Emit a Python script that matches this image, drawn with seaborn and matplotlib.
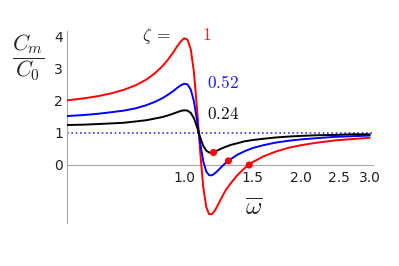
import matplotlib
matplotlib.use('Agg')
import matplotlib.pyplot as plt
import pandas as pd
import seaborn as sns
from matplotlib.ticker import FixedLocator, FixedFormatter, NullFormatter

# ---- data ----
omega = [0.50, 0.55, 0.60, 0.65, 0.70, 0.75, 0.80, 0.84, 0.88, 0.91, 0.94, 0.96,
         0.98, 1.00, 1.02, 1.04, 1.06, 1.08, 1.10, 1.12, 1.14, 1.16, 1.18, 1.20,
         1.22, 1.25, 1.28, 1.32, 1.37, 1.43, 1.50, 1.60, 1.72, 1.86, 2.00, 2.20,
         2.45, 2.70, 3.00]
c_zeta_1 = [2.02, 2.08, 2.15, 2.24, 2.35, 2.49, 2.67, 2.86, 3.09, 3.30, 3.54, 3.71,
            3.86, 3.96, 3.92, 3.62, 2.90, 1.73, 0.40, -0.69, -1.31, -1.54, -1.53, -1.42,
            -1.26, -1.01, -0.78, -0.56, -0.32, -0.10, 0.09, 0.27, 0.42, 0.54, 0.62, 0.70,
            0.77, 0.81, 0.85]
c_zeta_052 = [1.53, 1.56, 1.60, 1.65, 1.70, 1.77, 1.87, 1.97, 2.09, 2.20, 2.32, 2.41,
              2.49, 2.54, 2.52, 2.36, 1.99, 1.38, 0.69, 0.12, -0.20, -0.32, -0.32, -0.26,
              -0.18, -0.05, 0.07, 0.19, 0.32, 0.43, 0.53, 0.62, 0.70, 0.76, 0.80, 0.84,
              0.88, 0.90, 0.92]
c_zeta_024 = [1.25, 1.26, 1.28, 1.30, 1.32, 1.36, 1.40, 1.45, 1.50, 1.55, 1.61, 1.65,
              1.69, 1.71, 1.70, 1.63, 1.46, 1.18, 0.86, 0.60, 0.45, 0.39, 0.39, 0.42,
              0.46, 0.52, 0.57, 0.63, 0.68, 0.74, 0.78, 0.82, 0.86, 0.89, 0.91, 0.93,
              0.94, 0.96, 0.96]
zeta_labels = ['1', '0.52', '0.24']
dot_omega = [1.19, 1.30, 1.47]
dot_c = [0.39, 0.13, 0.0]
reference_level = 1.0
x_major_ticks = [1.0, 1.5, 2.0, 2.5, 3.0]
x_major_labels = ['1.0', '1.5', '2.0', '2.5', '3.0']
x_minor_ticks = [0.6, 0.7, 0.8, 0.9, 1.1, 1.2, 1.3, 1.4, 1.6, 1.7, 1.8, 1.9,
                 2.1, 2.2, 2.3, 2.4, 2.6, 2.7, 2.8, 2.9]
y_ticks = [-1, 0, 1, 2, 3, 4]
y_tick_labels = ['', '0', '1', '2', '3', '4']

# ---- build long table ----
rows = []
for lab, vals in zip(zeta_labels, [c_zeta_1, c_zeta_052, c_zeta_024]):
    for w, c in zip(omega, vals):
        rows.append({'omega': w, 'C': c, 'zeta': lab})
df = pd.DataFrame(rows)

sns.set_style('white')
plt.rcParams['font.family'] = ['DejaVu Sans']
plt.rcParams['mathtext.fontset'] = 'cm'

W, H = 399, 266
fig = plt.figure(figsize=(W / 100, H / 100), dpi=100)
ax = fig.add_axes([67 / W, (H - 222.6) / H, (372.5 - 67) / W, 192 / H])

palette = {'1': '#ff0000', '0.52': '#0000ff', '0.24': '#000000'}
ax.axhline(reference_level, color='#3333ff', lw=1.2, ls=(0, (1, 1.6)), zorder=1)
sns.lineplot(data=df, x='omega', y='C', hue='zeta', hue_order=zeta_labels,
             palette=palette, sort=False, estimator=None, legend=False,
             lw=1.4, ax=ax, zorder=3)
sns.scatterplot(x=dot_omega, y=dot_c, color='#ff0000', s=26, edgecolor='none',
                ax=ax, zorder=5)

ax.set_xscale('log')
ax.set_xlim(0.5, 3.05)
ax.set_ylim(-1.8, 4.2)
ax.xaxis.set_major_locator(FixedLocator(x_major_ticks))
ax.xaxis.set_major_formatter(FixedFormatter(x_major_labels))
ax.xaxis.set_minor_locator(FixedLocator(x_minor_ticks))
ax.xaxis.set_minor_formatter(NullFormatter())
ax.set_yticks(y_ticks)
ax.set_yticklabels(y_tick_labels)
ax.set_xlabel('')
ax.set_ylabel('')

for s in ['top', 'right']:
    ax.spines[s].set_visible(False)
ax.spines['bottom'].set_position(('data', 0))
for s in ['bottom', 'left']:
    ax.spines[s].set_color('#a8a8a8')
    ax.spines[s].set_linewidth(0.8)

ax.tick_params(axis='x', which='major', direction='in', length=4, width=0.7,
               color='#a8a8a8', labelsize=10, pad=4, labelcolor='#222222')
ax.tick_params(axis='x', which='minor', direction='in', length=2.2, width=0.6,
               color='#a8a8a8')
ax.tick_params(axis='y', which='major', direction='in', length=4, width=0.7,
               color='#a8a8a8', labelsize=10, pad=3, labelcolor='#222222')

def px(x, y):
    return x / W, 1 - y / H

fig.text(*px(28, 58), r'$\dfrac{C_m}{C_0}$', fontsize=16, ha='center', va='center')
fig.text(*px(157, 36), r'$\zeta\;=$', fontsize=12.5, ha='center', va='center')
fig.text(*px(206.5, 35), r'$1$', fontsize=12.5, ha='center', va='center', color='#ff2020')
fig.text(*px(222.5, 83), r'$0.52$', fontsize=12.5, ha='center', va='center', color='#1a1aff')
fig.text(*px(223.5, 113.5), r'$0.24$', fontsize=12.5, ha='center', va='center', color='#111111')
fig.text(*px(254, 208), r'$\overline{\omega}$', fontsize=18, ha='center', va='center')

fig.savefig('out.png', dpi=100)
